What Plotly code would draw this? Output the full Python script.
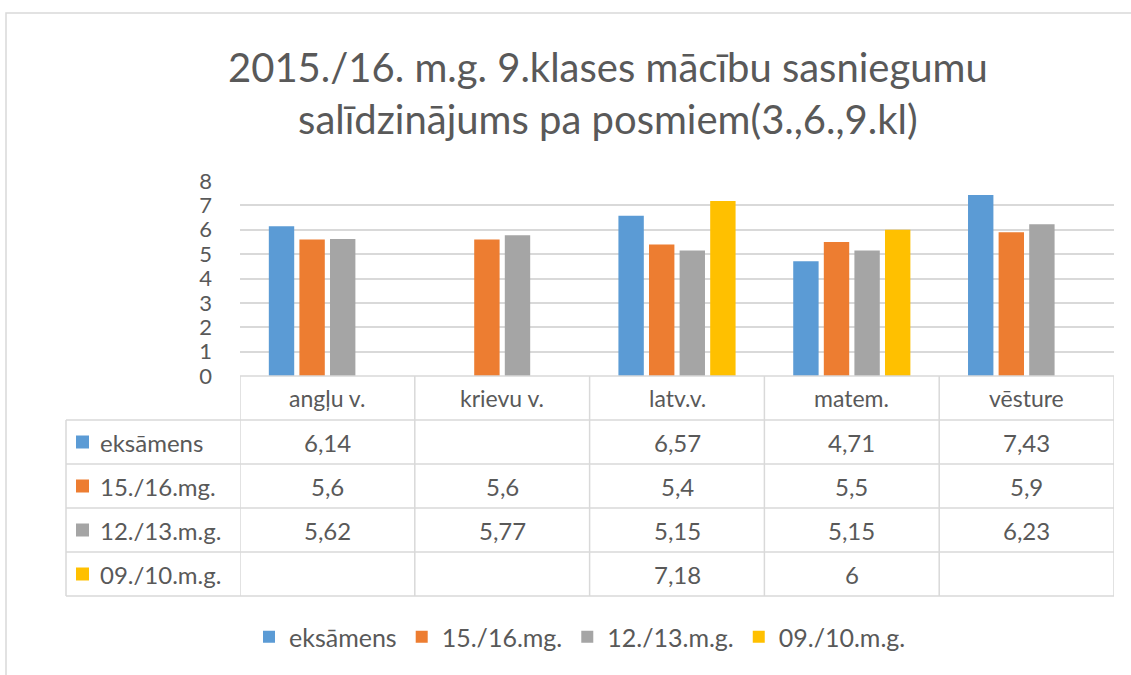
import plotly.graph_objects as go

categories = ["angļu v.", "krievu v.", "latv.v.", "matem.", "vēsture"]
series_names = ["eksāmens", "15./16.mg.", "12./13.m.g.", "09./10.m.g."]
eksamens = [6.14, None, 6.57, 4.71, 7.43]
mg_1516 = [5.6, 5.6, 5.4, 5.5, 5.9]
mg_1213 = [5.62, 5.77, 5.15, 5.15, 6.23]
mg_0910 = [None, None, 7.18, 6, None]
series_values = [eksamens, mg_1516, mg_1213, mg_0910]
colors = ["#5B9BD5", "#ED7D31", "#A5A5A5", "#FFC000"]
title_text = "2015./16. m.g. 9.klases mācību sasniegumu<br>salīdzinājums pa posmiem(3.,6.,9.kl)"

W, H = 1131, 675
L, R, T, B = 240, 1114, 181, 376
PW, PH = R - L, B - T
FONT = "Lato"
TXT = "#595959"
GRID = "#D9D9D9"


def xp(px):
    return (px - L) / PW


def yp(py):
    return (B - py) / PH


def fmt(v):
    return "" if v is None else f"{v:g}".replace(".", ",")


fig = go.Figure()
for name, vals, col in zip(series_names, series_values, colors):
    fig.add_trace(go.Bar(name=name, x=categories, y=vals, marker=dict(color=col, line=dict(width=0))))

shapes = []
annotations = []

# outer chart border
shapes.append(dict(type="rect", xref="paper", yref="paper", x0=xp(6), x1=xp(1140), y0=yp(700), y1=yp(13),
                   line=dict(color=GRID, width=1.5), layer="below"))

# table rows
row_y = [376, 420, 464, 508, 552, 596]
for i, y in enumerate(row_y):
    x0 = xp(240) if i == 0 else xp(66)
    shapes.append(dict(type="line", xref="paper", yref="paper", x0=x0, x1=1, y0=yp(y), y1=yp(y),
                       line=dict(color=GRID, width=1.5)))
# table columns (category boundaries on the x axis)
for k in range(len(categories) + 1):
    shapes.append(dict(type="line", xref="x", yref="paper", x0=k - 0.5, x1=k - 0.5, y0=yp(376), y1=yp(596),
                       line=dict(color=GRID, width=1.5)))
shapes.append(dict(type="line", xref="paper", yref="paper", x0=xp(66), x1=xp(66), y0=yp(420), y1=yp(596),
                   line=dict(color=GRID, width=1.5)))

# header labels
for c in categories:
    annotations.append(dict(x=c, y=yp(398), xref="x", yref="paper", text=c, showarrow=False,
                            font=dict(family=FONT, size=23, color=TXT), xanchor="center", yanchor="middle"))

# series rows
for r, (name, vals, col) in enumerate(zip(series_names, series_values, colors)):
    yc = (row_y[r + 1] + row_y[r + 2]) / 2
    shapes.append(dict(type="rect", xref="paper", yref="paper", x0=xp(76), x1=xp(89), y0=yp(yc + 6.5),
                       y1=yp(yc - 6.5), fillcolor=col, line=dict(width=0)))
    annotations.append(dict(x=xp(98), y=yp(yc), xref="paper", yref="paper", text=name, showarrow=False,
                            font=dict(family=FONT, size=24, color=TXT), xanchor="left", yanchor="middle"))
    for c, v in zip(categories, vals):
        if v is None:
            continue
        annotations.append(dict(x=c, y=yp(yc), xref="x", yref="paper", text=fmt(v), showarrow=False,
                                font=dict(family=FONT, size=24, color=TXT), xanchor="center", yanchor="middle"))

# title
annotations.append(dict(x=xp(608), y=yp(93), xref="paper", yref="paper", text=title_text, showarrow=False,
                        font=dict(family=FONT, size=40, color=TXT), xanchor="center", yanchor="middle"))

fig.update_layout(
    width=W, height=H, autosize=False,
    margin=dict(l=L, r=W - R, t=T, b=H - B, pad=0),
    paper_bgcolor="white", plot_bgcolor="white",
    barmode="group", bargap=0.3, bargroupgap=0.17,
    font=dict(family=FONT, color=TXT),
    showlegend=True,
    legend=dict(orientation="h", x=xp(580), xanchor="center", y=yp(637), yanchor="middle",
                font=dict(family=FONT, size=25, color=TXT), traceorder="normal", itemwidth=30),
    shapes=shapes, annotations=annotations,
)
fig.update_xaxes(range=[-0.5, 4.5], showticklabels=False, showgrid=False, zeroline=False, showline=False,
                 fixedrange=True)
fig.update_yaxes(range=[0, 8], dtick=1, showgrid=True, gridcolor=GRID, gridwidth=1.5, zeroline=False,
                 showline=False, tickfont=dict(family=FONT, size=22, color=TXT), ticklabelstandoff=27,
                 fixedrange=True)

fig.write_html("out.html", config={"displayModeBar": False},
               post_script="document.body.style.margin='0';document.body.style.overflow='hidden';")
